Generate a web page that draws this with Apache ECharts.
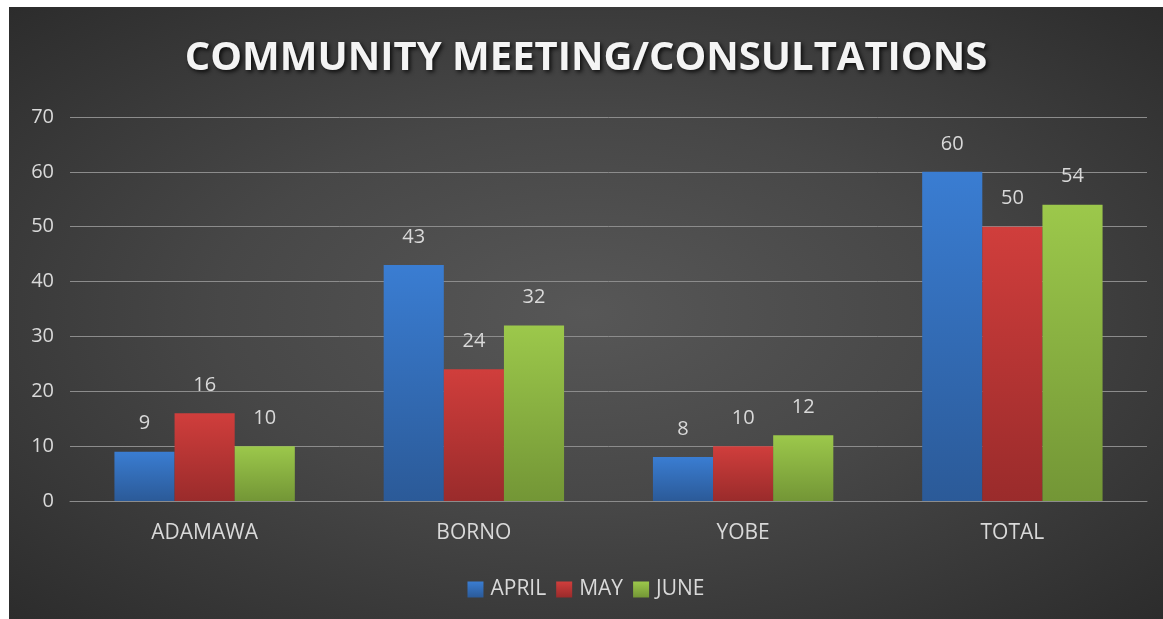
<!DOCTYPE html>
<html>
<head>
<meta charset="utf-8">
<script src="https://cdn.jsdelivr.net/npm/echarts@6/dist/echarts.min.js"></script>
<style>
  html, body { margin: 0; padding: 0; background: #ffffff; }
  #chart {
    position: absolute;
    left: 9px;
    top: 7px;
    width: 1154px;
    height: 612px;
    background: radial-gradient(ellipse at 50% 50%, #575757 0%, #474747 45%, #2c2c2c 100%);
  }
</style>
</head>
<body>
<div id="chart"></div>
<script>
  // data
  let categories = ['ADAMAWA', 'BORNO', 'YOBE', 'TOTAL'];
  let april = [9, 43, 8, 60];
  let may = [16, 24, 10, 50];
  let june = [10, 32, 12, 54];
  let seriesNames = ['APRIL', 'MAY', 'JUNE'];
  let yTicks = {min: 0, max: 70, interval: 10};

  let font = '"Open Sans", "Noto Sans", sans-serif';
  let txt = '#d9d9d9';

  function grad(top, bottom) {
    return new echarts.graphic.LinearGradient(0, 0, 0, 1, [
      {offset: 0, color: top},
      {offset: 1, color: bottom}
    ]);
  }

  function makeSeries(name, data, top, bottom) {
    return {
      name: name,
      type: 'bar',
      data: data,
      barGap: '0%',
      barCategoryGap: '33%',
      itemStyle: {color: grad(top, bottom)},
      label: {
        show: true,
        position: 'top',
        distance: 18,
        color: txt,
        fontSize: 20,
        fontFamily: font
      },
      emphasis: {disabled: true}
    };
  }

  let chart = echarts.init(document.getElementById('chart'));
  let option = {
    backgroundColor: 'transparent',
    animation: false,
    color: ['#3576c9', '#c93736', '#8fb944'],
    title: {
      text: 'COMMUNITY MEETING/CONSULTATIONS',
      left: 'center',
      top: 27,
      textStyle: {
        color: '#f4f4f4',
        fontSize: 40,
        fontWeight: 'bold',
        fontFamily: font,
        textShadowColor: 'rgba(0,0,0,0.8)',
        textShadowBlur: 4,
        textShadowOffsetX: 2,
        textShadowOffsetY: 2
      }
    },
    legend: {
      data: seriesNames,
      bottom: 14,
      left: 'center',
      itemWidth: 16,
      itemHeight: 16,
      itemGap: 10,
      icon: 'rect',
      textStyle: {color: txt, fontSize: 21, fontFamily: font, padding: [0, 0, 0, 2]}
    },
    grid: {left: 61, right: 16, top: 110, bottom: 118, containLabel: false},
    xAxis: {
      type: 'category',
      data: categories,
      axisLine: {show: true, lineStyle: {color: '#8c8c8c', width: 1}},
      axisTick: {show: false},
      axisLabel: {color: txt, fontSize: 21, fontFamily: font, margin: 22}
    },
    yAxis: {
      type: 'value',
      min: yTicks.min,
      max: yTicks.max,
      interval: yTicks.interval,
      axisLine: {show: false},
      axisTick: {show: false},
      axisLabel: {color: txt, fontSize: 20, fontFamily: font, margin: 16},
      splitLine: {lineStyle: {color: '#8c8c8c', width: 1}}
    },
    series: [
      makeSeries(seriesNames[0], april, '#3a7dd2', '#2b5a98'),
      makeSeries(seriesNames[1], may, '#d03e3c', '#9a2b2b'),
      makeSeries(seriesNames[2], june, '#9cc84b', '#739636')
    ]
  };
  chart.setOption(option);
  window.onresize = function () {
    chart.resize();
  };
</script>
</body>
</html>
